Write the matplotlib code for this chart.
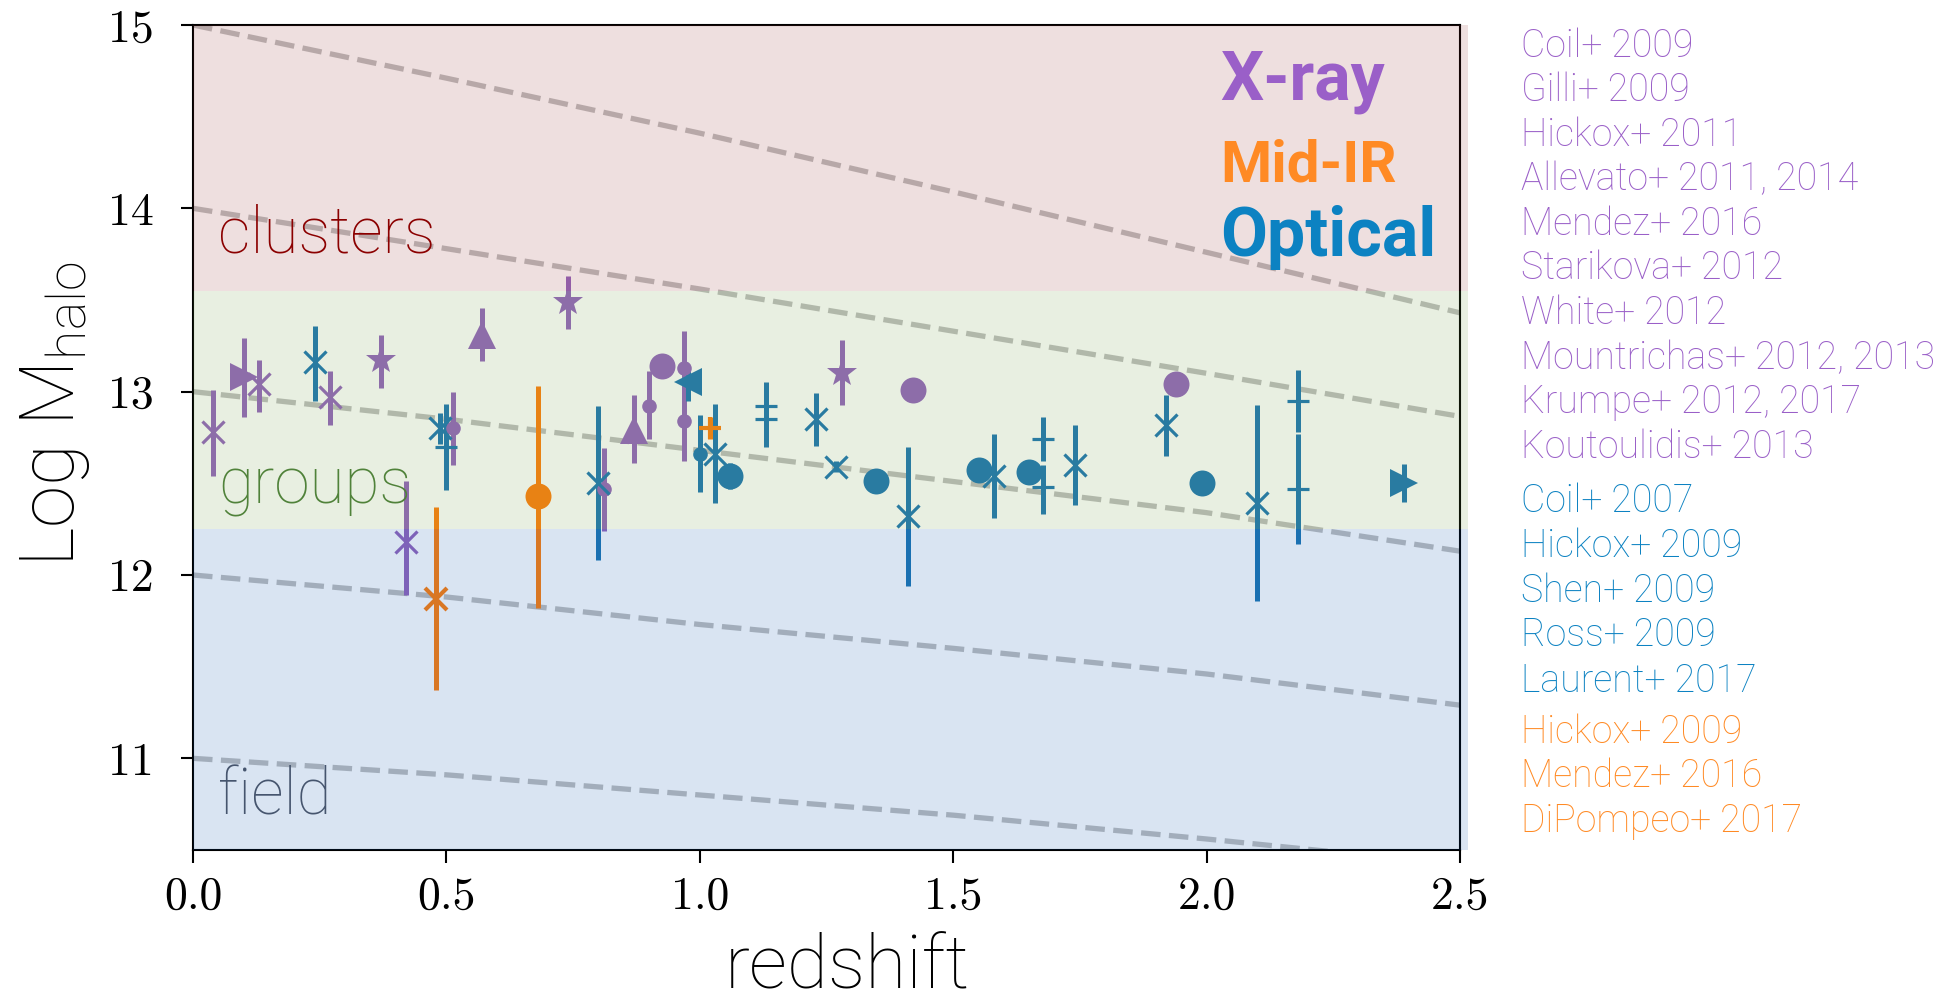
import matplotlib
matplotlib.use("Agg")
import matplotlib.pyplot as plt

plt.rcParams["font.family"] = ["Roboto", "DejaVu Sans"]
plt.rcParams["mathtext.fontset"] = "custom"

# --- measurements: redshift, log halo mass, lower/upper errors, symbol ---
xray_z = [0.04, 0.10, 0.13, 0.27, 0.37, 0.42, 0.513, 0.57, 0.74, 0.81,
          0.87, 0.90, 0.926, 0.969, 0.969, 1.28, 1.42, 1.94]
xray_logm = [12.78, 13.08, 13.04, 12.97, 13.17, 12.18, 12.80, 13.31, 13.49, 12.47,
             12.79, 12.92, 13.14, 13.13, 12.84, 13.10, 13.01, 13.04]
xray_lo = [0.24, 0.22, 0.15, 0.15, 0.15, 0.29, 0.20, 0.145, 0.15, 0.23,
           0.18, 0.18, 0.0, 0.20, 0.22, 0.175, 0.0, 0.0]
xray_hi = [0.23, 0.21, 0.13, 0.14, 0.14, 0.33, 0.20, 0.145, 0.14, 0.22,
           0.19, 0.19, 0.0, 0.20, 0.20, 0.18, 0.0, 0.0]
xray_mk = ["x", ">", "x", "x", "*", "x", "o", "^", "*", "o",
           "^", "o", "O", "o", "o", "*", "O", "O"]

mir_z = [0.48, 0.68, 1.02]
mir_logm = [11.87, 12.43, 12.80]
mir_lo = [0.50, 0.61, 0.06]
mir_hi = [0.50, 0.60, 0.06]
mir_mk = ["x", "O", "+"]

opt_z = [0.24, 0.488, 0.50, 0.80, 0.977, 1.00, 1.03, 1.06, 1.13, 1.13,
         1.23, 1.268, 1.348, 1.41, 1.55, 1.58, 1.65, 1.678, 1.678, 1.74,
         1.92, 1.99, 2.10, 2.18, 2.18, 2.39]
opt_logm = [13.16, 12.80, 12.70, 12.50, 13.05, 12.66, 12.66, 12.54, 12.92, 12.85,
            12.85, 12.59, 12.51, 12.32, 12.57, 12.54, 12.56, 12.74, 12.48, 12.60,
            12.82, 12.50, 12.39, 12.95, 12.47, 12.50]
opt_lo = [0.21, 0.085, 0.235, 0.42, 0.10, 0.21, 0.27, 0.07, 0.10, 0.15,
          0.145, 0.03, 0.0, 0.38, 0.0, 0.23, 0.0, 0.12, 0.15, 0.22,
          0.17, 0.0, 0.53, 0.17, 0.30, 0.10]
opt_hi = [0.20, 0.085, 0.23, 0.42, 0.07, 0.21, 0.27, 0.07, 0.13, 0.10,
          0.145, 0.03, 0.0, 0.38, 0.0, 0.23, 0.0, 0.12, 0.12, 0.22,
          0.16, 0.0, 0.535, 0.17, 0.30, 0.105]
opt_mk = ["x", "x", "+", "x", "<", "o", "x", "O", "+", "+",
          "x", "x", "O", "x", "O", "x", "O", "+", "+", "x",
          "x", "O", "x", "+", "+", ">"]

# halo growth tracks
track_z = [0.0, 0.5, 1.0, 1.5, 2.0, 2.5]
tracks = [
    [15.0, 14.71, 14.41, 14.09, 13.76, 13.43],
    [14.0, 13.78, 13.56, 13.33, 13.10, 12.865],
    [13.0, 12.85, 12.68, 12.51, 12.34, 12.13],
    [12.0, 11.88, 11.73, 11.60, 11.46, 11.29],
    [11.0, 10.91, 10.80, 10.69, 10.56, 10.42],
]

regimes = ["clusters", "groups", "field"]
regime_bounds = [(13.55, 15.0), (12.25, 13.55), (10.5, 12.25)]
regime_fill = ["#8e2a2a", "#669437", "#004ba8"]
regime_text = ["#8b0000", "#50823a", "#46556e"]
regime_label_y = [13.757, 12.39, 10.695]

xticks = [0.0, 0.5, 1.0, 1.5, 2.0, 2.5]
xtick_labels = ["0.0", "0.5", "1.0", "1.5", "2.0", "2.5"]
yticks = [11, 12, 13, 14, 15]
ytick_labels = ["11", "12", "13", "14", "15"]

xray_refs = ["Coil+ 2009", "Gilli+ 2009", "Hickox+ 2011", "Allevato+ 2011, 2014",
             "Mendez+ 2016", "Starikova+ 2012", "White+ 2012",
             "Mountrichas+ 2012, 2013", "Krumpe+ 2012, 2017", "Koutoulidis+ 2013"]
opt_refs = ["Coil+ 2007", "Hickox+ 2009", "Shen+ 2009", "Ross+ 2009", "Laurent+ 2017"]
mir_refs = ["Hickox+ 2009", "Mendez+ 2016", "DiPompeo+ 2017"]

C_XRAY, C_MIR, C_OPT = "#9467bd", "#ff7f0e", "#1f77b4"
T_XRAY, T_MIR, T_OPT = "#9a5fc8", "#ff8a24", "#0c82c2"

symbols = {
    "x": dict(marker="x", ms=16.5, mew=2.3),
    "+": dict(marker="+", ms=16.5, mew=2.3),
    "o": dict(marker="o", ms=10.5, mew=0),
    "O": dict(marker="o", ms=18.7, mew=0),
    "^": dict(marker="^", ms=20, mew=0),
    ">": dict(marker=">", ms=20, mew=0),
    "<": dict(marker="<", ms=20, mew=0),
    "*": dict(marker="*", ms=22, mew=0),
}

fig = plt.figure(figsize=(19.52, 10.05), dpi=100)
ax = fig.add_axes([0.09887, 0.15423, 0.64908, 0.82090])


def plot_sample(zs, ms, lo, hi, mk, color, mew_scale=1.0):
    for z, m, el, eh, k in zip(zs, ms, lo, hi, mk):
        st = dict(symbols[k])
        if k in "x+":
            st["mew"] = st["mew"] * mew_scale
        ax.errorbar([z], [m], yerr=[[el], [eh]], fmt="none", ecolor=color,
                    elinewidth=3.6, capsize=0, zorder=2)
        ax.plot([z], [m], linestyle="none", color=color, mec=color, zorder=3, **st)


for tr in tracks:
    ax.plot(track_z, tr, ls="--", color="gray", alpha=0.5, lw=3.8, zorder=1)

plot_sample(xray_z, xray_logm, xray_lo, xray_hi, xray_mk, C_XRAY)
plot_sample(mir_z, mir_logm, mir_lo, mir_hi, mir_mk, C_MIR, mew_scale=1.3)
plot_sample(opt_z, opt_logm, opt_lo, opt_hi, opt_mk, C_OPT)

# translucent mass regimes laid over everything
for name, (y0, y1), fc, tc, ly in zip(regimes, regime_bounds, regime_fill,
                                       regime_text, regime_label_y):
    ax.axhspan(y0, y1, xmin=0, xmax=1.006, facecolor=fc, alpha=0.15,
               lw=0, zorder=4, clip_on=False)
    ax.text(0.05, ly, name, color=tc, fontsize=46, fontweight="light",
            ha="left", va="baseline", zorder=6)

ax.text(2.026, 14.594, "X-ray", color=T_XRAY, fontsize=49, fontweight="bold",
        va="baseline", zorder=6)
ax.text(2.026, 14.146, "Mid-IR", color=T_MIR, fontsize=42, fontweight="bold",
        va="baseline", zorder=6)
ax.text(2.026, 13.738, "Optical", color=T_OPT, fontsize=49, fontweight="bold",
        va="baseline", zorder=6)

ax.set_xlim(0, 2.5)
ax.set_ylim(10.5, 15)
ax.set_xticks(xticks)
ax.set_xticklabels(xtick_labels, fontfamily="cmr10", fontsize=33)
ax.set_yticks(yticks)
ax.set_yticklabels(ytick_labels, fontfamily="cmr10", fontsize=33)
ax.tick_params(axis="both", direction="out", length=9, width=1.5)
ax.tick_params(axis="x", pad=10)
ax.tick_params(axis="y", pad=19)
for sp in ax.spines.values():
    sp.set_linewidth(1.5)

fig.text(847 / 1952, 1 - 988 / 1005, "redshift", fontsize=54, fontweight="light",
         ha="center", va="baseline")
ax.set_ylabel(r"Log $\mathregular{M_{halo}}$", fontsize=55, fontweight="light")
ax.yaxis.set_label_coords(-0.080, 0.528)

# reference list beside the axes
ref_x = 1521 / 1952
ref_rows = ([(r, T_XRAY) for r in xray_refs] + [(r, T_OPT) for r in opt_refs]
            + [(r, T_MIR) for r in mir_refs])
ref_pix_y = [56.6, 101.4, 146.2, 189.8, 234.6, 279.4, 324.3, 369, 412.6, 457.5,
             512.2, 557, 601.9, 645.5, 691.5, 742.6, 787.4, 832.2]
for (txt, col), py in zip(ref_rows, ref_pix_y):
    fig.text(ref_x, 1 - py / 1005, txt, color=col, fontsize=27,
             fontweight="light", ha="left", va="baseline")

fig.savefig("out.png", dpi=100)
